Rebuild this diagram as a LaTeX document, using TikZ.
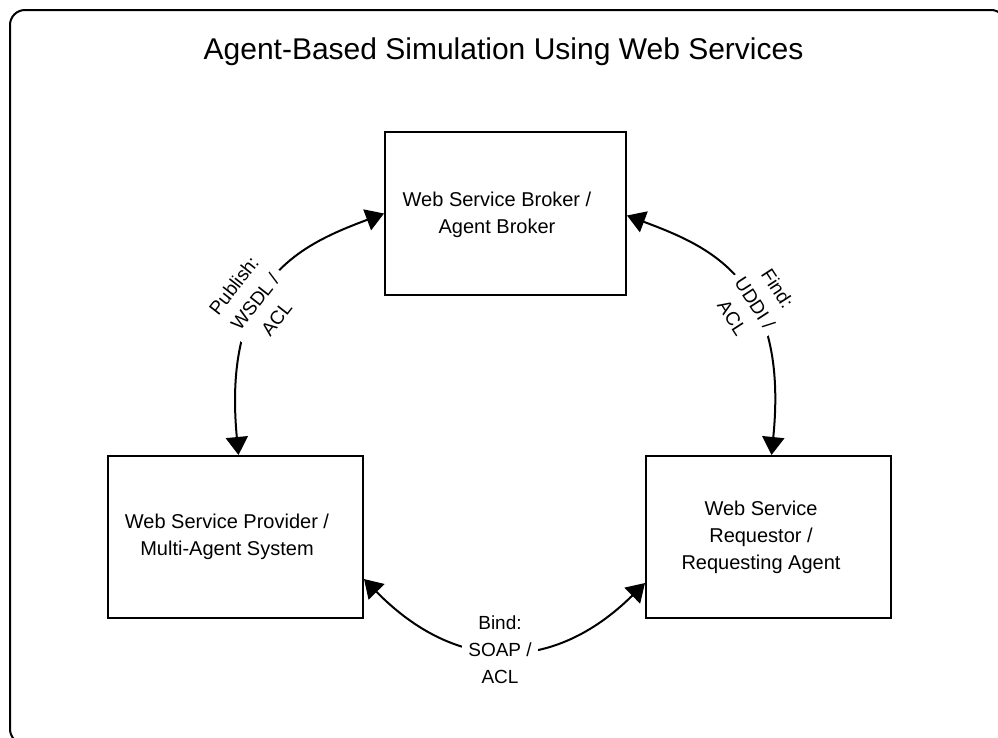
\documentclass[tikz,border=0pt]{standalone}
\usepackage{fontspec}
\setmainfont{Liberation Sans}
\usetikzlibrary{arrows.meta}

\begin{document}
\begin{tikzpicture}[x=1pt, y=-1pt,
  frame/.style={draw, line width=2pt, rounded corners=15pt},
  box/.style={draw, line width=2pt, minimum width=#1, inner sep=0pt},
  boxtext/.style={align=center, inner sep=0pt, font=\fontsize{20}{27}\selectfont},
  lbl/.style={align=center, fill=white, inner xsep=6pt, inner ysep=1pt,
              font=\fontsize{19}{27}\selectfont},
  conn/.style={line width=2pt, {Triangle[length=18pt,width=22pt]}-{Triangle[length=18pt,width=22pt]}}
]
\useasboundingbox (0,0) rectangle (998,737);
\clip (0,0) rectangle (998,737);

% outer frame (runs past the right and bottom edges)
\draw[frame] (10,10) rectangle (1006,744);

% title
\node[anchor=base, inner sep=0pt, font=\fontsize{30}{36}\selectfont] (title)
  at (503.5,59) {Agent-Based Simulation Using Web Services};

% the three parties
\node[box=241pt, minimum height=163pt] (tb) at (505.5,213.5) {};
\node[boxtext] (tbtext) at (497,215) {Web Service Broker /\\Agent Broker};

\node[box=255pt, minimum height=162pt] (lb) at (235.5,537) {};
\node[boxtext] (lbtext) at (227,537) {Web Service Provider /\\Multi-Agent System};

\node[box=245pt, minimum height=162pt] (rb) at (768.5,537) {};
\node[boxtext] (rbtext) at (761,537) {Web Service\\Requestor /\\Requesting Agent};

% interactions
\draw[conn] ([xshift=3pt]lb.north) .. controls (222,280) and (300,245) .. (tb.west);
\draw[conn] ([yshift=-2pt]tb.east) .. controls (711,247) and (789,280) .. ([xshift=3pt]rb.north);
\draw[conn] ([yshift=40pt]lb.south east) .. controls (456,673) and (553,674) .. ([yshift=36pt]rb.south west);

% interaction labels
\node[lbl, rotate=52] (pub) at (255,302) {Publish:\\WSDL /\\ACL};
\node[lbl, rotate=-57] (find) at (755,303) {Find:\\UDDI /\\ACL};
\node[lbl] (bind) at (500,650) {Bind:\\SOAP /\\ACL};
\end{tikzpicture}
\end{document}
